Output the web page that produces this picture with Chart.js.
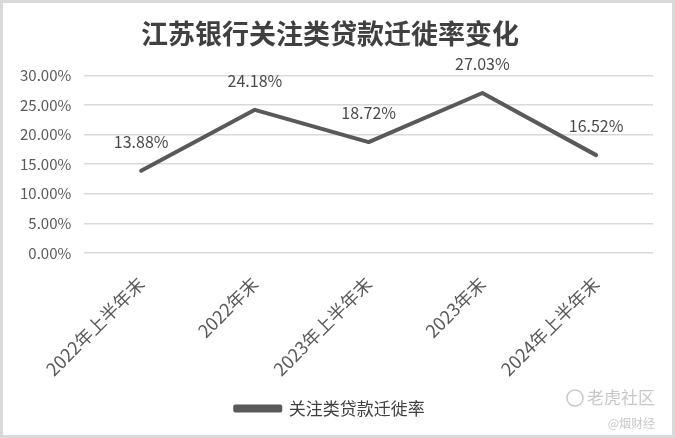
<!DOCTYPE html>
<html>
<head>
<meta charset="utf-8">
<script src="https://cdn.jsdelivr.net/npm/chart.js@4/dist/chart.umd.min.js"></script>
<style>
html,body{margin:0;padding:0;background:#fff;}
#wrap{position:relative;width:675px;height:438px;box-sizing:border-box;border:3px solid #d9d9d9;background:#fff;}
canvas{display:block;}
</style>
</head>
<body>
<div id="wrap"><canvas id="c" width="669" height="432"></canvas></div>
<script>
const categories = ['2022年上半年末','2022年末','2023年上半年末','2023年末','2024年上半年末'];
const seriesName = '关注类贷款迁徙率';
const values = [13.88, 24.18, 18.72, 27.03, 16.52];
const titleText = '江苏银行关注类贷款迁徙率变化';
const watermark1 = '老虎社区';
const watermark2 = '@烟财经';

const FONT = '"Noto Sans CJK SC", "Noto Sans", sans-serif';

const labelPlugin = {
  id: 'pointLabels',
  afterDatasetsDraw(chart) {
    const ctx = chart.ctx;
    const meta = chart.getDatasetMeta(0);
    ctx.save();
    ctx.font = '16px ' + FONT;
    ctx.fillStyle = '#4a4a4a';
    ctx.textAlign = 'center';
    ctx.textBaseline = 'middle';
    meta.data.forEach((pt, i) => {
      ctx.fillText(values[i].toFixed(2) + '%', pt.x, pt.y - 29);
    });
    ctx.restore();
  }
};

const watermarkPlugin = {
  id: 'wm',
  afterDraw(chart) {
    const ctx = chart.ctx;
    ctx.save();
    ctx.fillStyle = '#c8c8c8';
    ctx.textAlign = 'right';
    ctx.textBaseline = 'middle';
    ctx.font = '17px ' + FONT;
    ctx.fillText(watermark1, 652, 395);
    ctx.strokeStyle = '#c8c8c8';
    ctx.lineWidth = 1.5;
    ctx.beginPath();
    ctx.arc(572, 395, 8, 0, Math.PI * 2);
    ctx.stroke();
    ctx.font = '12px ' + FONT;
    ctx.fillText(watermark2, 652, 420);
    ctx.restore();
  }
};

new Chart(document.getElementById('c'), {
  type: 'line',
  data: {
    labels: categories,
    datasets: [{
      label: seriesName,
      data: values,
      borderColor: '#595959',
      backgroundColor: '#595959',
      borderWidth: 4,
      borderCapStyle: 'round',
      borderJoinStyle: 'round',
      pointRadius: 0,
      pointHoverRadius: 0,
      tension: 0
    }]
  },
  options: {
    responsive: false,
    animation: false,
    layout: { padding: { left: 4, right: 19, top: 8, bottom: 8 } },
    plugins: {
      title: {
        display: true,
        text: titleText,
        color: '#404040',
        font: { family: FONT, size: 27, weight: 'bold' },
        padding: { top: 7, bottom: 25 }
      },
      legend: {
        position: 'bottom',
        labels: {
          color: '#404040',
          font: { family: FONT, size: 17 },
          boxWidth: 45,
          boxHeight: 4,
          padding: 8
        }
      },
      tooltip: { enabled: false }
    },
    scales: {
      x: {
        offset: true,
        grid: { display: false },
        border: { display: false },
        ticks: {
          color: '#595959',
          font: { family: FONT, size: 18 },
          minRotation: 45,
          maxRotation: 45,
          padding: 12
        }
      },
      y: {
        min: 0,
        max: 30,
        grid: { color: '#d9d9d9', lineWidth: 1.5, drawTicks: false },
        border: { display: false },
        ticks: {
          stepSize: 5,
          color: '#595959',
          font: { family: FONT, size: 15 },
          padding: 13,
          callback: v => v.toFixed(2) + '%'
        }
      }
    }
  },
  plugins: [labelPlugin, watermarkPlugin]
});
</script>
</body>
</html>
